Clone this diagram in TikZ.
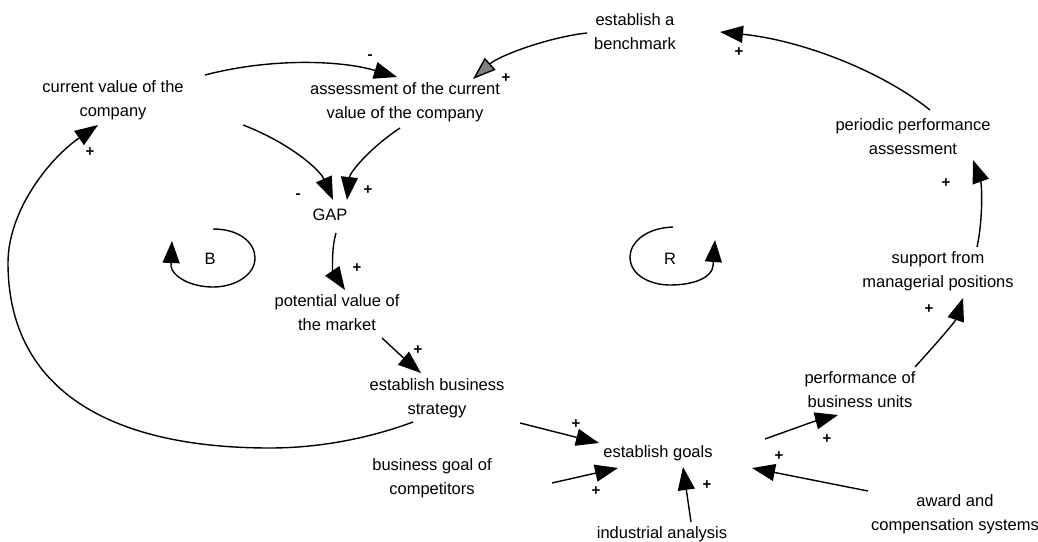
\documentclass[tikz,border=0pt]{standalone}
\usepackage{fontspec}
\setmainfont{Liberation Sans}
\usetikzlibrary{arrows.meta,calc}
\begin{document}
\begin{tikzpicture}[x=1pt,y=-1pt,
  lbl/.style={inner sep=0pt, align=center, font=\fontsize{16.5}{24}\selectfont},
  sgn/.style={inner sep=0pt, font=\fontsize{15}{15}\selectfont\bfseries},
  link/.style={line width=1.4pt, -{Triangle[length=23pt,width=17pt]}},
  hatchlink/.style={line width=1.4pt, -{Triangle[length=23pt,width=16pt,fill=black!50]}},
  loopline/.style={line width=1.4pt, -{Triangle[length=22pt,width=17pt]}}]
\useasboundingbox (0,0) rectangle (1038,541);

% variables
\node[lbl] (bench) at (635,32)  {establish a\\benchmark};
\node[lbl] (cur)   at (113,100) {current value of the\\company};
\node[lbl] (ass)   at (405,102) {assessment of the current\\value of the company};
\node[lbl] (per)   at (913,137) {periodic performance\\assessment};
\node[lbl] (gap)   at (330,215) {GAP};
\node[lbl] (sup)   at (938,271) {support from\\managerial positions};
\node[lbl] (pot)   at (337,313) {potential value of\\the market};
\node[lbl] (strat) at (437,398) {establish business\\strategy};
\node[lbl] (perf)  at (860,390) {performance of\\business units};
\node[lbl] (goals) at (658,453) {establish goals};
\node[lbl] (comp)  at (432,478) {business goal of\\competitors};
\node[lbl] (ind)   at (662,534) {industrial analysis};
\node[lbl] (award) at (955,514) {award and\\compensation systems};

% loop markers
\node[lbl] (B) at (210,259) {B};
\node[lbl] (R) at (670,259) {R};

% causal links
\draw[link] ($(cur)+(92,-25)$) .. controls (270,58) and (340,60) .. ($(ass)+(-8,-25)$);
\draw[link] ($(cur)+(130,25)$) .. controls (290,143) and (320,170) .. ($(gap)+(3,-15)$);
\draw[link] ($(ass)+(-5,26)$) .. controls (370,148) and (350,172) .. ($(gap)+(17,-15)$);
\draw[link] ($(gap)+(6,18)$) .. controls (331,250) and (333,272) .. ($(pot)+(8,-23)$);
\draw[link] ($(pot)+(45,25)$) .. controls (395,350) and (408,362) .. ($(strat)+(-16,-25)$);
\draw[link] ($(strat)+(-24,24)$) .. controls (370,438) and (320,448) .. (270,448)
  .. controls (100,448) and (8,383) .. (8,263)
  .. controls (8,210) and (50,158) .. ($(cur)+(-15,25)$);
\draw[hatchlink] ($(bench)+(-48,1)$) .. controls (550,37) and (500,55) .. ($(ass)+(68,-23)$);
\draw[link] ($(per)+(17,-27)$) .. controls (880,70) and (800,40) .. ($(bench)+(85,0)$);
\draw[link] ($(sup)+(39,-24)$) .. controls (983,220) and (982,185) .. ($(per)+(60,23)$);
\draw[link] ($(perf)+(55,-23)$) .. controls (935,345) and (955,322) .. ($(sup)+(25,27)$);
\draw[link] ($(goals)+(107,-14)$) .. controls (790,430) and (815,421) .. ($(perf)+(-22,25)$);
\draw[link] ($(strat)+(83,25)$) -- ($(goals)+(-59,-10)$);
\draw[link] ($(comp)+(120,5)$) -- ($(goals)+(-40,15)$);
\draw[link] ($(ind)+(29,-12)$) -- ($(goals)+(25,14)$);
\draw[link] ($(award)+(-87,-23)$) -- ($(goals)+(94,15)$);

% polarity signs
\node[sgn] (s1)  at (370,57)  {-};
\node[sgn] (s2)  at (298,196) {-};
\node[sgn] (s3)  at (368,190) {+};
\node[sgn] (s4)  at (357,268) {+};
\node[sgn] (s5)  at (418,350) {+};
\node[sgn] (s6)  at (90,152)  {+};
\node[sgn] (s7)  at (506,78)  {+};
\node[sgn] (s8)  at (739,52)  {+};
\node[sgn] (s9)  at (946,183) {+};
\node[sgn] (s10) at (929,309) {+};
\node[sgn] (s11) at (827,439) {+};
\node[sgn] (s12) at (576,424) {+};
\node[sgn] (s13) at (596,491) {+};
\node[sgn] (s14) at (707,485) {+};
\node[sgn] (s15) at (779,456) {+};

% balancing loop (clockwise)
\draw[loopline] ($(B)+(3,-30)$) .. controls (240,229) and (255,243) .. (255,258)
  .. controls (255,275) and (235,287) .. (213,287)
  .. controls (190,287) and (172,276) .. (171,266) -- ($(B)+(-38,-18)$);
% reinforcing loop (counter-clockwise)
\draw[loopline] ($(R)+(3,-32)$) .. controls (645,228) and (630,243) .. (630,257)
  .. controls (630,275) and (650,285) .. (670,285)
  .. controls (695,285) and (712,277) .. (713,266) -- ($(R)+(45,-19)$);
\end{tikzpicture}
\end{document}
